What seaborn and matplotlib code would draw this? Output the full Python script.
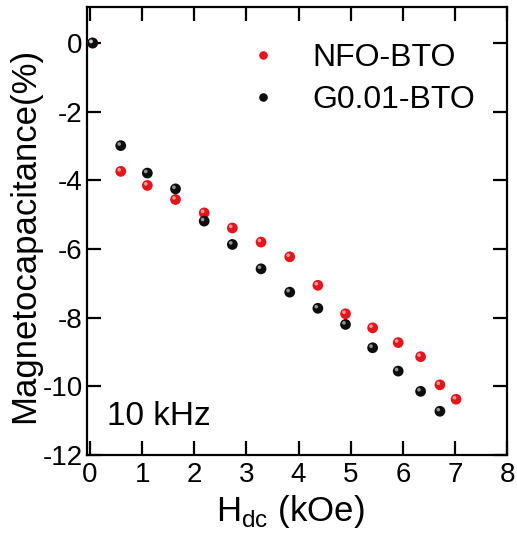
import numpy as np
import pandas as pd
import matplotlib
matplotlib.use("Agg")
import matplotlib.pyplot as plt
import matplotlib.transforms as mtransforms
import seaborn as sns

# Data
nfo_x = [0.05, 0.59, 1.10, 1.64, 2.19, 2.73, 3.28, 3.83, 4.37, 4.90, 5.42, 5.91, 6.34, 6.71, 7.02]
nfo_y = [0.0, -3.74, -4.15, -4.56, -4.95, -5.39, -5.80, -6.23, -7.06, -7.89, -8.30, -8.73, -9.14, -9.96, -10.38]
g_x = [0.05, 0.59, 1.10, 1.64, 2.19, 2.73, 3.28, 3.83, 4.37, 4.90, 5.42, 5.91, 6.34, 6.71]
g_y = [0.0, -2.99, -3.79, -4.25, -5.19, -5.87, -6.58, -7.26, -7.73, -8.20, -8.88, -9.56, -10.15, -10.73]
series_names = ["NFO-BTO", "G0.01-BTO"]
x_ticks = [0, 1, 2, 3, 4, 5, 6, 7, 8]
y_ticks = [0, -2, -4, -6, -8, -10, -12]

df = pd.concat([
    pd.DataFrame({"H": nfo_x, "MC": nfo_y, "sample": series_names[0]}),
    pd.DataFrame({"H": g_x, "MC": g_y, "sample": series_names[1]}),
], ignore_index=True)

sns.set_style("ticks")
plt.rcParams["font.family"] = ["Liberation Sans", "DejaVu Sans"]
for k in ["text.color", "axes.labelcolor", "xtick.color", "ytick.color", "axes.edgecolor"]:
    plt.rcParams[k] = "black"

fig = plt.figure(figsize=(5.17, 5.37), dpi=100)
ax = fig.add_axes([0.168, 0.153, 0.813, 0.834])

palette = {series_names[0]: "#e3161e", series_names[1]: "#0d0d0d"}
sns.scatterplot(data=df, x="H", y="MC", hue="sample", palette=palette, s=60,
                edgecolor="none", ax=ax, legend=True, zorder=3)
# glossy highlight on each sphere
hl = mtransforms.offset_copy(ax.transData, fig=fig, x=-1.6, y=1.6, units="dots")
ax.scatter(df["H"], df["MC"], s=7, color="white", alpha=0.55, edgecolor="none",
           transform=hl, zorder=4)

ax.set_xlim(-0.06, 8.0)
ax.set_ylim(-12, 1.05)
ax.set_xticks(x_ticks)
ax.set_yticks(y_ticks)
ax.set_xticklabels([str(t) for t in x_ticks], fontsize=20)
ax.set_yticklabels([str(t) for t in y_ticks], fontsize=20)
ax.tick_params(axis="both", direction="in", length=10, width=1.6, top=True, right=True,
               labeltop=False, labelright=False)
ax.tick_params(axis="x", pad=5)
ax.tick_params(axis="y", pad=3)
for sp in ax.spines.values():
    sp.set_linewidth(1.6)
    sp.set_visible(True)

ax.set_xlabel(r"H$_{\mathregular{dc}}$ (kOe)", fontsize=25, labelpad=4)
ax.xaxis.label.set_x(0.485)
ax.set_ylabel("Magnetocapacitance(%)", fontsize=25, labelpad=1)
ax.yaxis.label.set_y(0.49)

ax.text(0.048, 0.067, "10 kHz", transform=ax.transAxes, fontsize=24, ha="left", va="baseline")

leg = ax.legend(loc="upper left", bbox_to_anchor=(0.343, 0.919), frameon=False,
                fontsize=23, markerscale=0.8, handlelength=2.0, handletextpad=0.55,
                labelspacing=0.36, borderpad=0, borderaxespad=0)

fig.savefig("out.png", dpi=100)
